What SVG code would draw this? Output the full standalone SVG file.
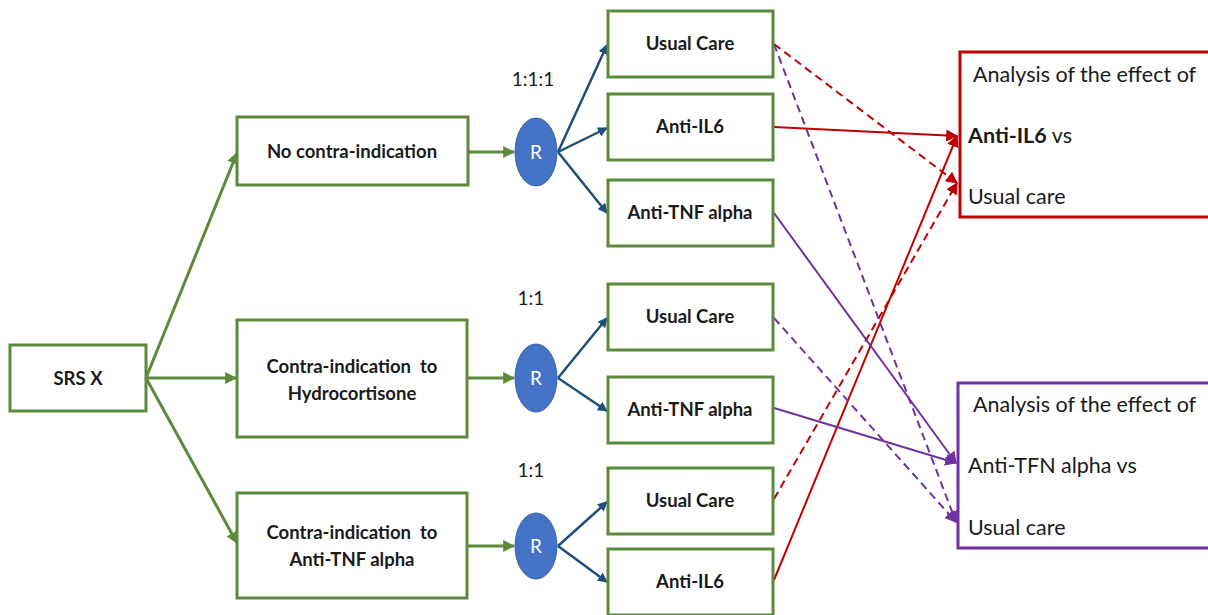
<svg xmlns="http://www.w3.org/2000/svg" width="1208" height="615" viewBox="0 0 1208 615">
  <style>
    .box { fill: #ffffff; stroke: #5a8a3a; stroke-width: 3; }
    .rnd { fill: #4472c4; stroke: #3a63ad; stroke-width: 1; }
    .lbl { font-family: Lato, "Liberation Sans", sans-serif; font-weight: bold; font-size: 18.5px; fill: #1a1a1a; text-anchor: middle; }
    .ratio { font-family: Lato, "Liberation Sans", sans-serif; font-size: 19px; fill: #1a1a1a; text-anchor: middle; }
    .rtxt { font-family: Lato, "Liberation Sans", sans-serif; font-size: 19px; fill: #ffffff; text-anchor: middle; }
    .an { font-family: Lato, "Liberation Sans", sans-serif; font-size: 21.5px; fill: #1a1a1a; }
    .g { stroke: #5a8a3a; stroke-width: 3; fill: none; }
    .b { stroke: #1f4e79; stroke-width: 2.5; fill: none; }
    .red { stroke: #c00000; stroke-width: 2; fill: none; }
    .pur { stroke: #7030a0; stroke-width: 2; fill: none; }
    .dash { stroke-dasharray: 8 5; }
  </style>
  <defs>
    <marker id="ag" viewBox="0 0 10 10" refX="9" refY="5" markerWidth="4" markerHeight="4" orient="auto" markerUnits="strokeWidth">
      <path d="M0,0 L10,5 L0,10 z" fill="#5a8a3a"/>
    </marker>
    <marker id="ab" viewBox="0 0 10 10" refX="9" refY="5" markerWidth="4" markerHeight="4" orient="auto" markerUnits="strokeWidth">
      <path d="M0,0 L10,5 L0,10 z" fill="#1f4e79"/>
    </marker>
    <marker id="ar" viewBox="0 0 10 10" refX="9" refY="5" markerWidth="6" markerHeight="6" orient="auto" markerUnits="strokeWidth">
      <path d="M0,0 L10,5 L0,10 z" fill="#c00000"/>
    </marker>
    <marker id="ap" viewBox="0 0 10 10" refX="9" refY="5" markerWidth="6" markerHeight="6" orient="auto" markerUnits="strokeWidth">
      <path d="M0,0 L10,5 L0,10 z" fill="#7030a0"/>
    </marker>
  </defs>

  <rect width="1208" height="615" fill="#ffffff"/>

  <!-- connectors -->
  <g id="connectors">
    <!-- SRS X to strata -->
    <line class="g" x1="146" y1="378" x2="237" y2="153" marker-end="url(#ag)"/>
    <line class="g" x1="146" y1="378" x2="236" y2="378" marker-end="url(#ag)"/>
    <line class="g" x1="146" y1="378" x2="237" y2="543" marker-end="url(#ag)"/>
    <!-- strata to randomisation -->
    <line class="g" x1="468" y1="152" x2="514" y2="152" marker-end="url(#ag)"/>
    <line class="g" x1="468" y1="378" x2="514" y2="378" marker-end="url(#ag)"/>
    <line class="g" x1="468" y1="546" x2="514" y2="546" marker-end="url(#ag)"/>
    <!-- randomisation to arms -->
    <line class="b" x1="558" y1="152" x2="607" y2="45" marker-end="url(#ab)"/>
    <line class="b" x1="558" y1="152" x2="607" y2="128" marker-end="url(#ab)"/>
    <line class="b" x1="558" y1="152" x2="607" y2="213" marker-end="url(#ab)"/>
    <line class="b" x1="558" y1="378" x2="607" y2="318" marker-end="url(#ab)"/>
    <line class="b" x1="558" y1="378" x2="607" y2="411" marker-end="url(#ab)"/>
    <line class="b" x1="558" y1="546" x2="607" y2="502" marker-end="url(#ab)"/>
    <line class="b" x1="558" y1="546" x2="607" y2="582" marker-end="url(#ab)"/>
    <!-- arms to Anti-IL6 analysis -->
    <line class="red dash" x1="774" y1="44" x2="957" y2="183" marker-end="url(#ar)"/>
    <line class="red" x1="774" y1="127" x2="957" y2="136" marker-end="url(#ar)"/>
    <line class="red dash" x1="774" y1="499" x2="957" y2="183" marker-end="url(#ar)"/>
    <line class="red" x1="774" y1="580" x2="957" y2="136" marker-end="url(#ar)"/>
    <!-- arms to Anti-TNF alpha analysis -->
    <line class="pur dash" x1="774" y1="44" x2="956" y2="522" marker-end="url(#ap)"/>
    <line class="pur" x1="774" y1="213" x2="956" y2="463" marker-end="url(#ap)"/>
    <line class="pur" x1="774" y1="408" x2="956" y2="463" marker-end="url(#ap)"/>
    <line class="pur dash" x1="774" y1="318" x2="956" y2="522" marker-end="url(#ap)"/>
  </g>

  <!-- population -->
  <g id="srs">
    <rect class="box" x="10" y="345" width="136" height="66"/>
    <text class="lbl" x="78" y="385">SRS X</text>
  </g>

  <!-- strata -->
  <g id="no-contra">
    <rect class="box" x="237" y="117" width="231" height="68"/>
    <text class="lbl" x="352" y="158">No contra-indication</text>
  </g>
  <g id="contra-hydro">
    <rect class="box" x="237" y="320" width="230" height="117"/>
    <text class="lbl" x="352" y="373">Contra-indication&#160; to</text>
    <text class="lbl" x="352" y="400">Hydrocortisone</text>
  </g>
  <g id="contra-tnf">
    <rect class="box" x="237" y="493" width="230" height="105"/>
    <text class="lbl" x="352" y="539">Contra-indication&#160; to</text>
    <text class="lbl" x="352" y="566">Anti-TNF alpha</text>
  </g>

  <!-- randomisation -->
  <g id="rand1">
    <text class="ratio" x="533" y="86">1:1:1</text>
    <ellipse class="rnd" cx="536" cy="152" rx="21" ry="34"/>
    <text class="rtxt" x="536" y="159">R</text>
  </g>
  <g id="rand2">
    <text class="ratio" x="531" y="305">1:1</text>
    <ellipse class="rnd" cx="536" cy="378" rx="21" ry="34"/>
    <text class="rtxt" x="536" y="385">R</text>
  </g>
  <g id="rand3">
    <text class="ratio" x="531" y="477">1:1</text>
    <ellipse class="rnd" cx="536" cy="546" rx="21" ry="33"/>
    <text class="rtxt" x="536" y="553">R</text>
  </g>

  <!-- treatment arms -->
  <g id="arm1-usual">
    <rect class="box" x="608" y="11" width="165" height="66"/>
    <text class="lbl" x="690" y="50">Usual Care</text>
  </g>
  <g id="arm1-il6">
    <rect class="box" x="608" y="94" width="165" height="66"/>
    <text class="lbl" x="690" y="133">Anti-IL6</text>
  </g>
  <g id="arm1-tnf">
    <rect class="box" x="608" y="180" width="165" height="66"/>
    <text class="lbl" x="690" y="219">Anti-TNF alpha</text>
  </g>
  <g id="arm2-usual">
    <rect class="box" x="608" y="284" width="165" height="66"/>
    <text class="lbl" x="690" y="323">Usual Care</text>
  </g>
  <g id="arm2-tnf">
    <rect class="box" x="608" y="377" width="165" height="66"/>
    <text class="lbl" x="690" y="416">Anti-TNF alpha</text>
  </g>
  <g id="arm3-usual">
    <rect class="box" x="608" y="468" width="165" height="66"/>
    <text class="lbl" x="690" y="507">Usual Care</text>
  </g>
  <g id="arm3-il6">
    <rect class="box" x="608" y="549" width="165" height="66"/>
    <text class="lbl" x="690" y="588">Anti-IL6</text>
  </g>

  <!-- analyses -->
  <g id="analysis-il6">
    <rect x="960" y="52" width="260" height="165" fill="#ffffff" stroke="#c00000" stroke-width="3"/>
    <text class="an" x="973" y="82">Analysis of the effect of</text>
    <text class="an" x="968" y="143"><tspan font-weight="bold">Anti-IL6</tspan> vs</text>
    <text class="an" x="968" y="204">Usual care</text>
  </g>
  <g id="analysis-tnf">
    <rect x="958" y="383" width="262" height="165" fill="#ffffff" stroke="#7030a0" stroke-width="3"/>
    <text class="an" x="973" y="412">Analysis of the effect of</text>
    <text class="an" x="968" y="473">Anti-TFN alpha vs</text>
    <text class="an" x="968" y="535">Usual care</text>
  </g>
</svg>
